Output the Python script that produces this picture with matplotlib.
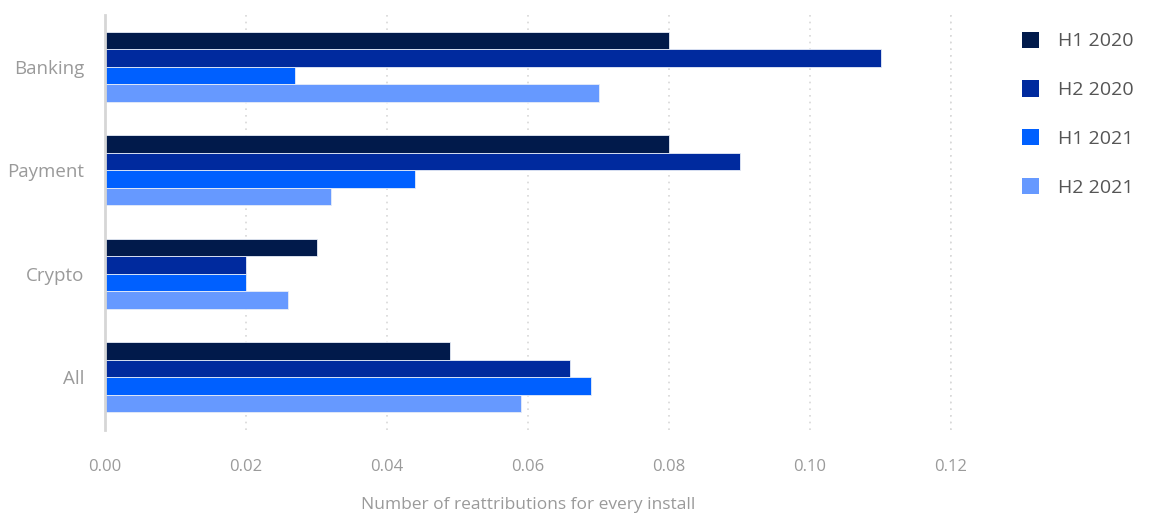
"""Horizontal grouped bars: reattributions per install by vertical and half-year."""

import matplotlib.pyplot as plt
import numpy as np
from matplotlib.patches import Patch


categories = ["Banking", "Payment", "Crypto", "All"]
periods = ["H1 2020", "H2 2020", "H1 2021", "H2 2021"]
h1_2020 = [0.080, 0.080, 0.030, 0.049]
h2_2020 = [0.110, 0.090, 0.020, 0.066]
h1_2021 = [0.027, 0.044, 0.020, 0.069]
h2_2021 = [0.070, 0.032, 0.026, 0.059]
x_ticks = [0.00, 0.02, 0.04, 0.06, 0.08, 0.10, 0.12]

COLORS = ["#011a4b", "#002a9e", "#0060ff", "#6699ff"]
TEXT_GRAY = "#9a9a9a"

plt.rcParams["font.family"] = ["Open Sans", "DejaVu Sans"]

fig = plt.figure(figsize=(11.53, 5.15), dpi=100)
# axes right edge sits on the 0.12 gridline
ax = fig.add_axes([105 / 1153, 85 / 515, (951 - 105) / 1153, (500 - 85) / 515])

series = [h1_2020, h2_2020, h1_2021, h2_2021]
ypos = np.arange(len(categories))[::-1]
bar_h = 0.17
for i, (vals, color) in enumerate(zip(series, COLORS)):
    offset = (1.5 - i) * bar_h
    ax.barh(ypos + offset, vals, height=bar_h, color=color,
            edgecolor="#e6ecf7", linewidth=0.6, zorder=3)

ax.set_xlim(0, 0.12)
ax.set_ylim(-0.51, 3.5)
ax.set_yticks(ypos)
ax.set_yticklabels(categories, va="center_baseline")
ax.set_xticks(x_ticks)
ax.set_xticklabels([f"{t:.2f}" for t in x_ticks])
ax.tick_params(axis="both", length=0, colors=TEXT_GRAY)
ax.tick_params(axis="x", pad=21, labelsize=12)
ax.tick_params(axis="y", pad=15, labelsize=13.5)

ax.grid(axis="x", linestyle=(0, (1, 3)), color="#d8d8d8", linewidth=1.2, zorder=0)
ax.axvline(0.12, linestyle=(0, (1, 3)), color="#d8d8d8", linewidth=1.2, zorder=0,
           clip_on=False)
for side in ["top", "right", "bottom"]:
    ax.spines[side].set_visible(False)
ax.spines["left"].set_color("#d6d6d6")
ax.spines["left"].set_linewidth(2)
ax.spines["left"].set_zorder(4)

ax.set_xlabel("Number of reattributions for every install", color=TEXT_GRAY,
              fontsize=12.5, labelpad=16)

handles = [Patch(facecolor=c, edgecolor="none") for c in COLORS]
fig.legend(handles, periods, loc="upper left", bbox_to_anchor=(1004 / 1153, 1 - 14 / 515),
           frameon=False, fontsize=14, labelcolor="#555555",
           handlelength=0.9, handleheight=0.9, labelspacing=1.55, handletextpad=1.0)

fig.savefig("out.png", dpi=100)
